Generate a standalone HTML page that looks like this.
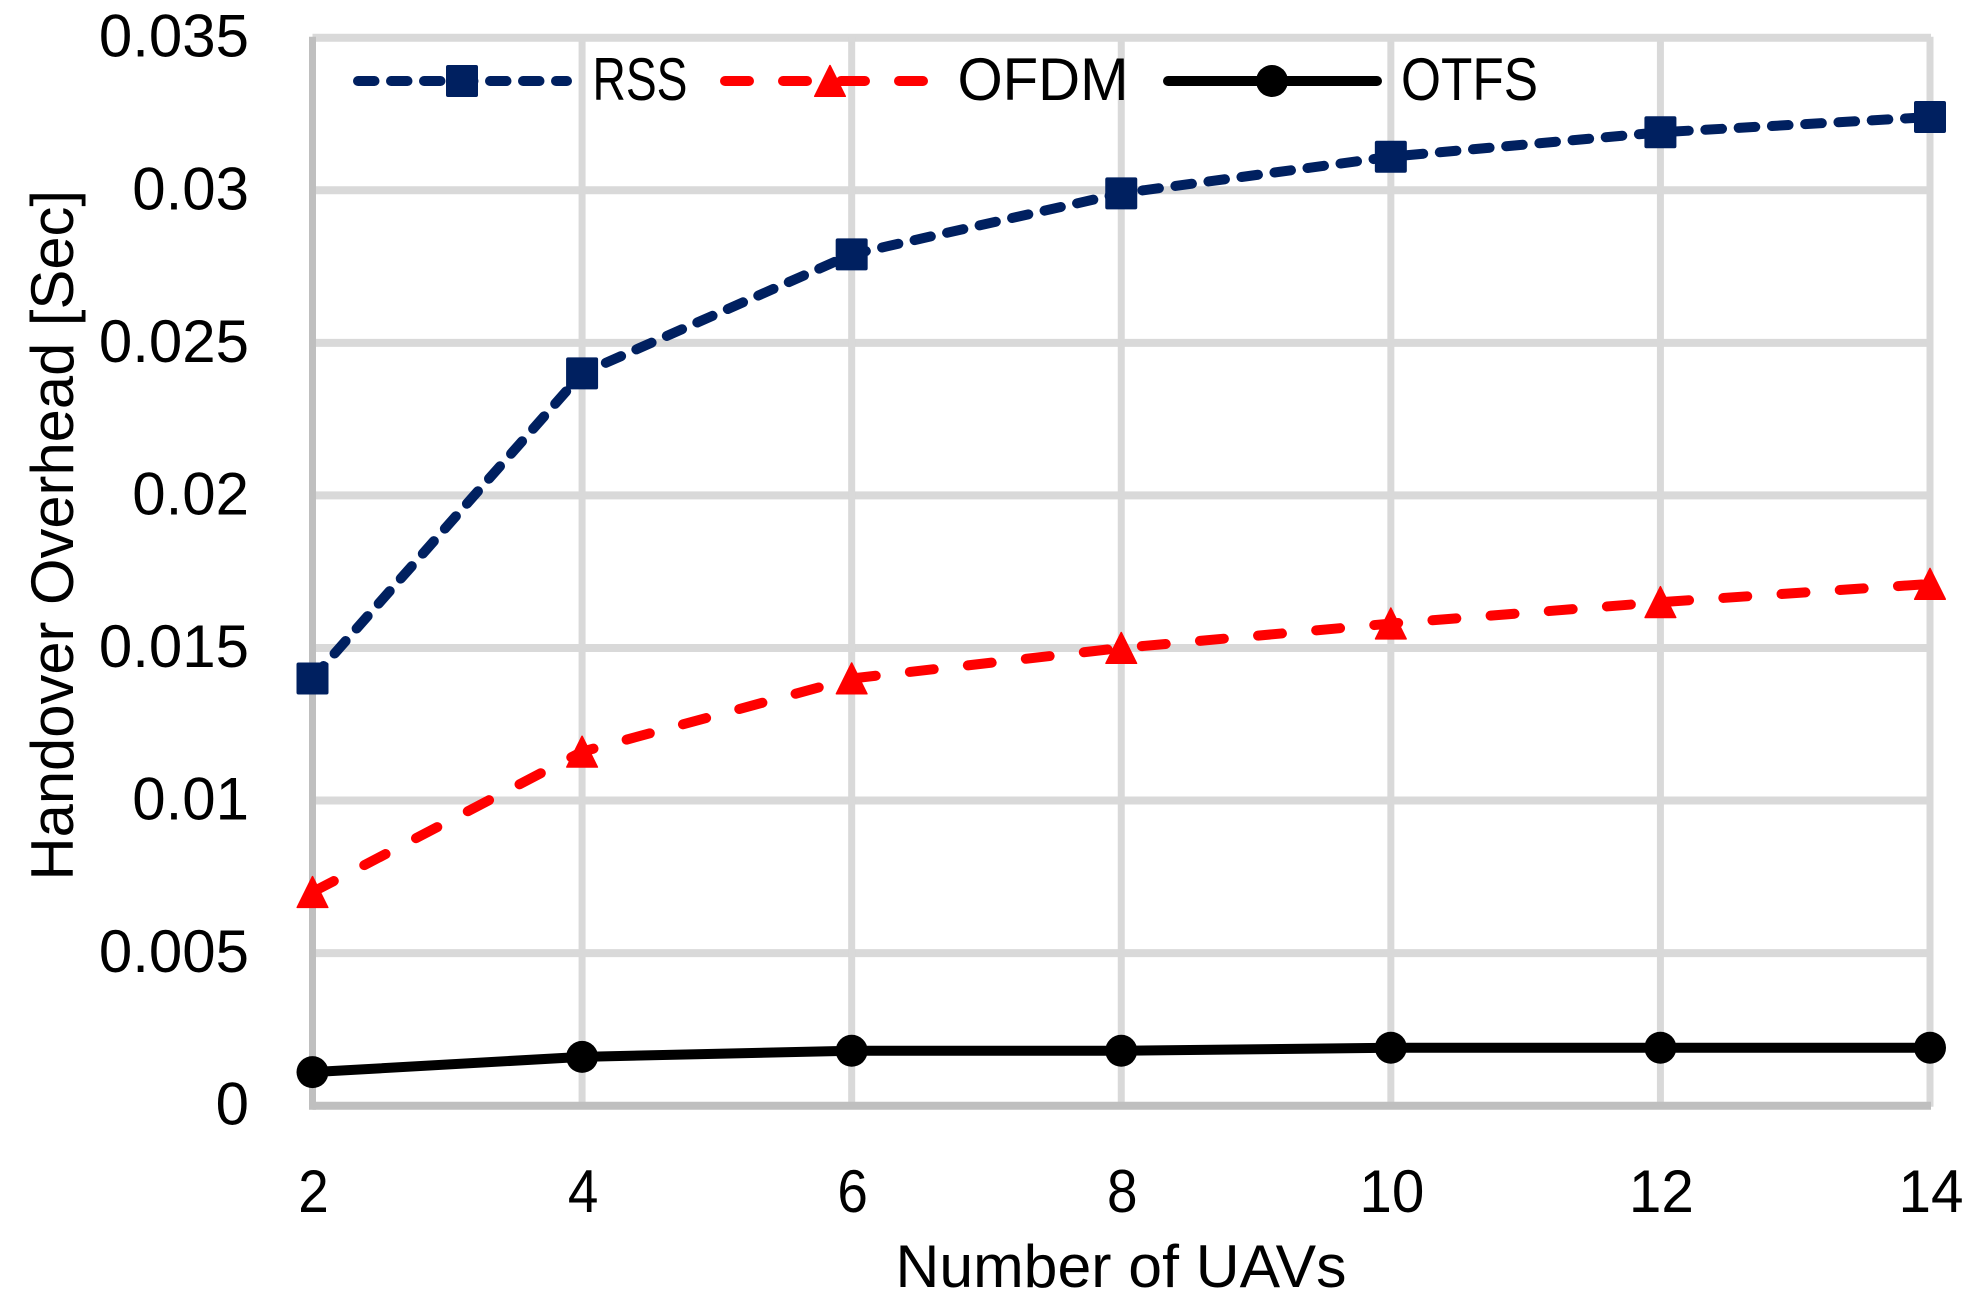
<!DOCTYPE html>
<html lang="en">
<head>
<meta charset="utf-8">
<title>Handover Overhead vs Number of UAVs</title>
<style>
html,body{margin:0;padding:0;background:#fff;}
svg{display:block;}
text{font-family:"Liberation Sans",sans-serif;fill:#000;}
</style>
</head>
<body>
<svg id="chart" xmlns="http://www.w3.org/2000/svg" width="1975" height="1313" viewBox="0 0 1975 1313">
  <g id="grid"></g>
  <g id="axes"></g>
  <g id="series"></g>
  <g id="ticks"></g>
  <text x="895.5" y="1287" font-size="60" textLength="451" lengthAdjust="spacingAndGlyphs">Number of UAVs</text>
  <text transform="translate(73,880.5) rotate(-90)" font-size="60" textLength="690.5" lengthAdjust="spacingAndGlyphs">Handover Overhead [Sec]</text>
  <g>
    <g>
      <line x1="358" y1="81" x2="567" y2="81" stroke="#002060" stroke-width="10" stroke-linecap="round" stroke-dasharray="16.5 16.5"/>
      <rect x="446" y="65" width="32" height="32" rx="2" fill="#002060"/>
      <text x="592.5" y="100" font-size="60" textLength="95" lengthAdjust="spacingAndGlyphs">RSS</text>
    </g>
    <g>
      <line x1="725" y1="81" x2="924" y2="81" stroke="#ff0000" stroke-width="10" stroke-linecap="round" stroke-dasharray="24 34"/>
      <polygon points="830,65.5 845.3,96.3 814.7,96.3" fill="#ff0000" stroke="#ff0000" stroke-width="1.5" stroke-linejoin="round"/>
      <text x="957.5" y="100" font-size="60" textLength="171" lengthAdjust="spacingAndGlyphs">OFDM</text>
    </g>
    <g>
      <line x1="1168" y1="81" x2="1377" y2="81" stroke="#000000" stroke-width="10" stroke-linecap="round"/>
      <circle cx="1272" cy="81" r="16" fill="#000000"/>
      <text x="1401" y="100" font-size="60" textLength="137" lengthAdjust="spacingAndGlyphs">OTFS</text>
    </g>
  </g>
</svg>
<script>
const categories = [2, 4, 6, 8, 10, 12, 14];
const rssValues = [0.014, 0.024, 0.0279, 0.0299, 0.0311, 0.0319, 0.0324];
const ofdmValues = [0.007, 0.0116, 0.014, 0.015, 0.0158, 0.0165, 0.0171];
const otfsValues = [0.0011, 0.0016, 0.0018, 0.0018, 0.0019, 0.0019, 0.0019];
const yTickValues = [0, 0.005, 0.01, 0.015, 0.02, 0.025, 0.03, 0.035];
const yTickLabels = ['0', '0.005', '0.01', '0.015', '0.02', '0.025', '0.03', '0.035'];
const xTickLabels = ['2', '4', '6', '8', '10', '12', '14'];

const NS = 'http://www.w3.org/2000/svg';
const plotLeft = 312.5, plotRight = 1930, plotBottom = 1105.7, plotTop = 37.7;
const yMax = 0.035;
function xScale(i) { return plotLeft + (plotRight - plotLeft) * i / (categories.length - 1); }
function yScale(v) { return plotBottom - (plotBottom - plotTop) * v / yMax; }
function make(tag, attrs, parent) {
  const el = document.createElementNS(NS, tag);
  for (const k in attrs) el.setAttribute(k, attrs[k]);
  parent.appendChild(el);
  return el;
}

const grid = document.getElementById('grid');
const axes = document.getElementById('axes');
const series = document.getElementById('series');
const ticks = document.getElementById('ticks');

yTickValues.forEach(function (v) {
  if (v === 0) return;
  const l = make('line', {x1: plotLeft, x2: plotRight + 1, y1: yScale(v), y2: yScale(v), stroke: '#d9d9d9', 'stroke-width': 8}, grid);
  
  
});
categories.forEach(function (c, i) {
  if (i === 0) return;
  const l = make('line', {x1: xScale(i), x2: xScale(i), y1: plotTop - 1, y2: plotBottom + 1, stroke: '#d9d9d9', 'stroke-width': 7}, grid);
  
  
});

const yAxisLine = make('line', {x1: plotLeft, x2: plotLeft, y1: plotTop - 1, y2: plotBottom + 4, stroke: '#bfbfbf', 'stroke-width': 7}, axes);


const xAxisLine = make('line', {x1: plotLeft, x2: plotRight + 1, y1: plotBottom, y2: plotBottom, stroke: '#bfbfbf', 'stroke-width': 8}, axes);



function linePath(values) {
  return values.map(function (v, i) { return (i ? 'L' : 'M') + xScale(i) + ' ' + yScale(v); }).join(' ');
}

const rssLine = make('path', {d: linePath(rssValues), fill: 'none', stroke: '#002060', 'stroke-width': 10, 'stroke-linecap': 'round', 'stroke-linejoin': 'round', 'stroke-dasharray': '16.66 16.66'}, series);


const ofdmLine = make('path', {d: linePath(ofdmValues), fill: 'none', stroke: '#ff0000', 'stroke-width': 10, 'stroke-linecap': 'round', 'stroke-linejoin': 'round', 'stroke-dasharray': '24 34.35'}, series);


const otfsLine = make('path', {d: linePath(otfsValues), fill: 'none', stroke: '#000000', 'stroke-width': 10, 'stroke-linecap': 'round', 'stroke-linejoin': 'round'}, series);



rssValues.forEach(function (v, i) {
  const m = make('rect', {x: xScale(i) - 16, y: yScale(v) - 16, width: 32, height: 32, rx: 2, fill: '#002060'}, series);
  
  
});
ofdmValues.forEach(function (v, i) {
  const x = xScale(i), y = yScale(v);
  const m = make('polygon', {points: x + ',' + (y - 15.5) + ' ' + (x + 15.3) + ',' + (y + 15.3) + ' ' + (x - 15.3) + ',' + (y + 15.3), fill: '#ff0000', stroke: '#ff0000', 'stroke-width': 1.5, 'stroke-linejoin': 'round'}, series);
  
  
});
otfsValues.forEach(function (v, i) {
  const m = make('circle', {cx: xScale(i), cy: yScale(v), r: 16, fill: '#000000'}, series);
  
  
});

yTickValues.forEach(function (v, i) {
  const t = make('text', {x: 249, y: yScale(v) + 19, 'font-size': 60, 'text-anchor': 'end'}, ticks);
  
  
  t.textContent = yTickLabels[i];
});
xTickLabels.forEach(function (label, i) {
  const w = label.length > 1 ? 65 : 30.5;
  const t = make('text', {x: xScale(i) + 1 - w / 2, y: 1212, 'font-size': 60, textLength: w, lengthAdjust: 'spacingAndGlyphs'}, ticks);
  
  
  t.textContent = label;
});
</script>
</body>
</html>
